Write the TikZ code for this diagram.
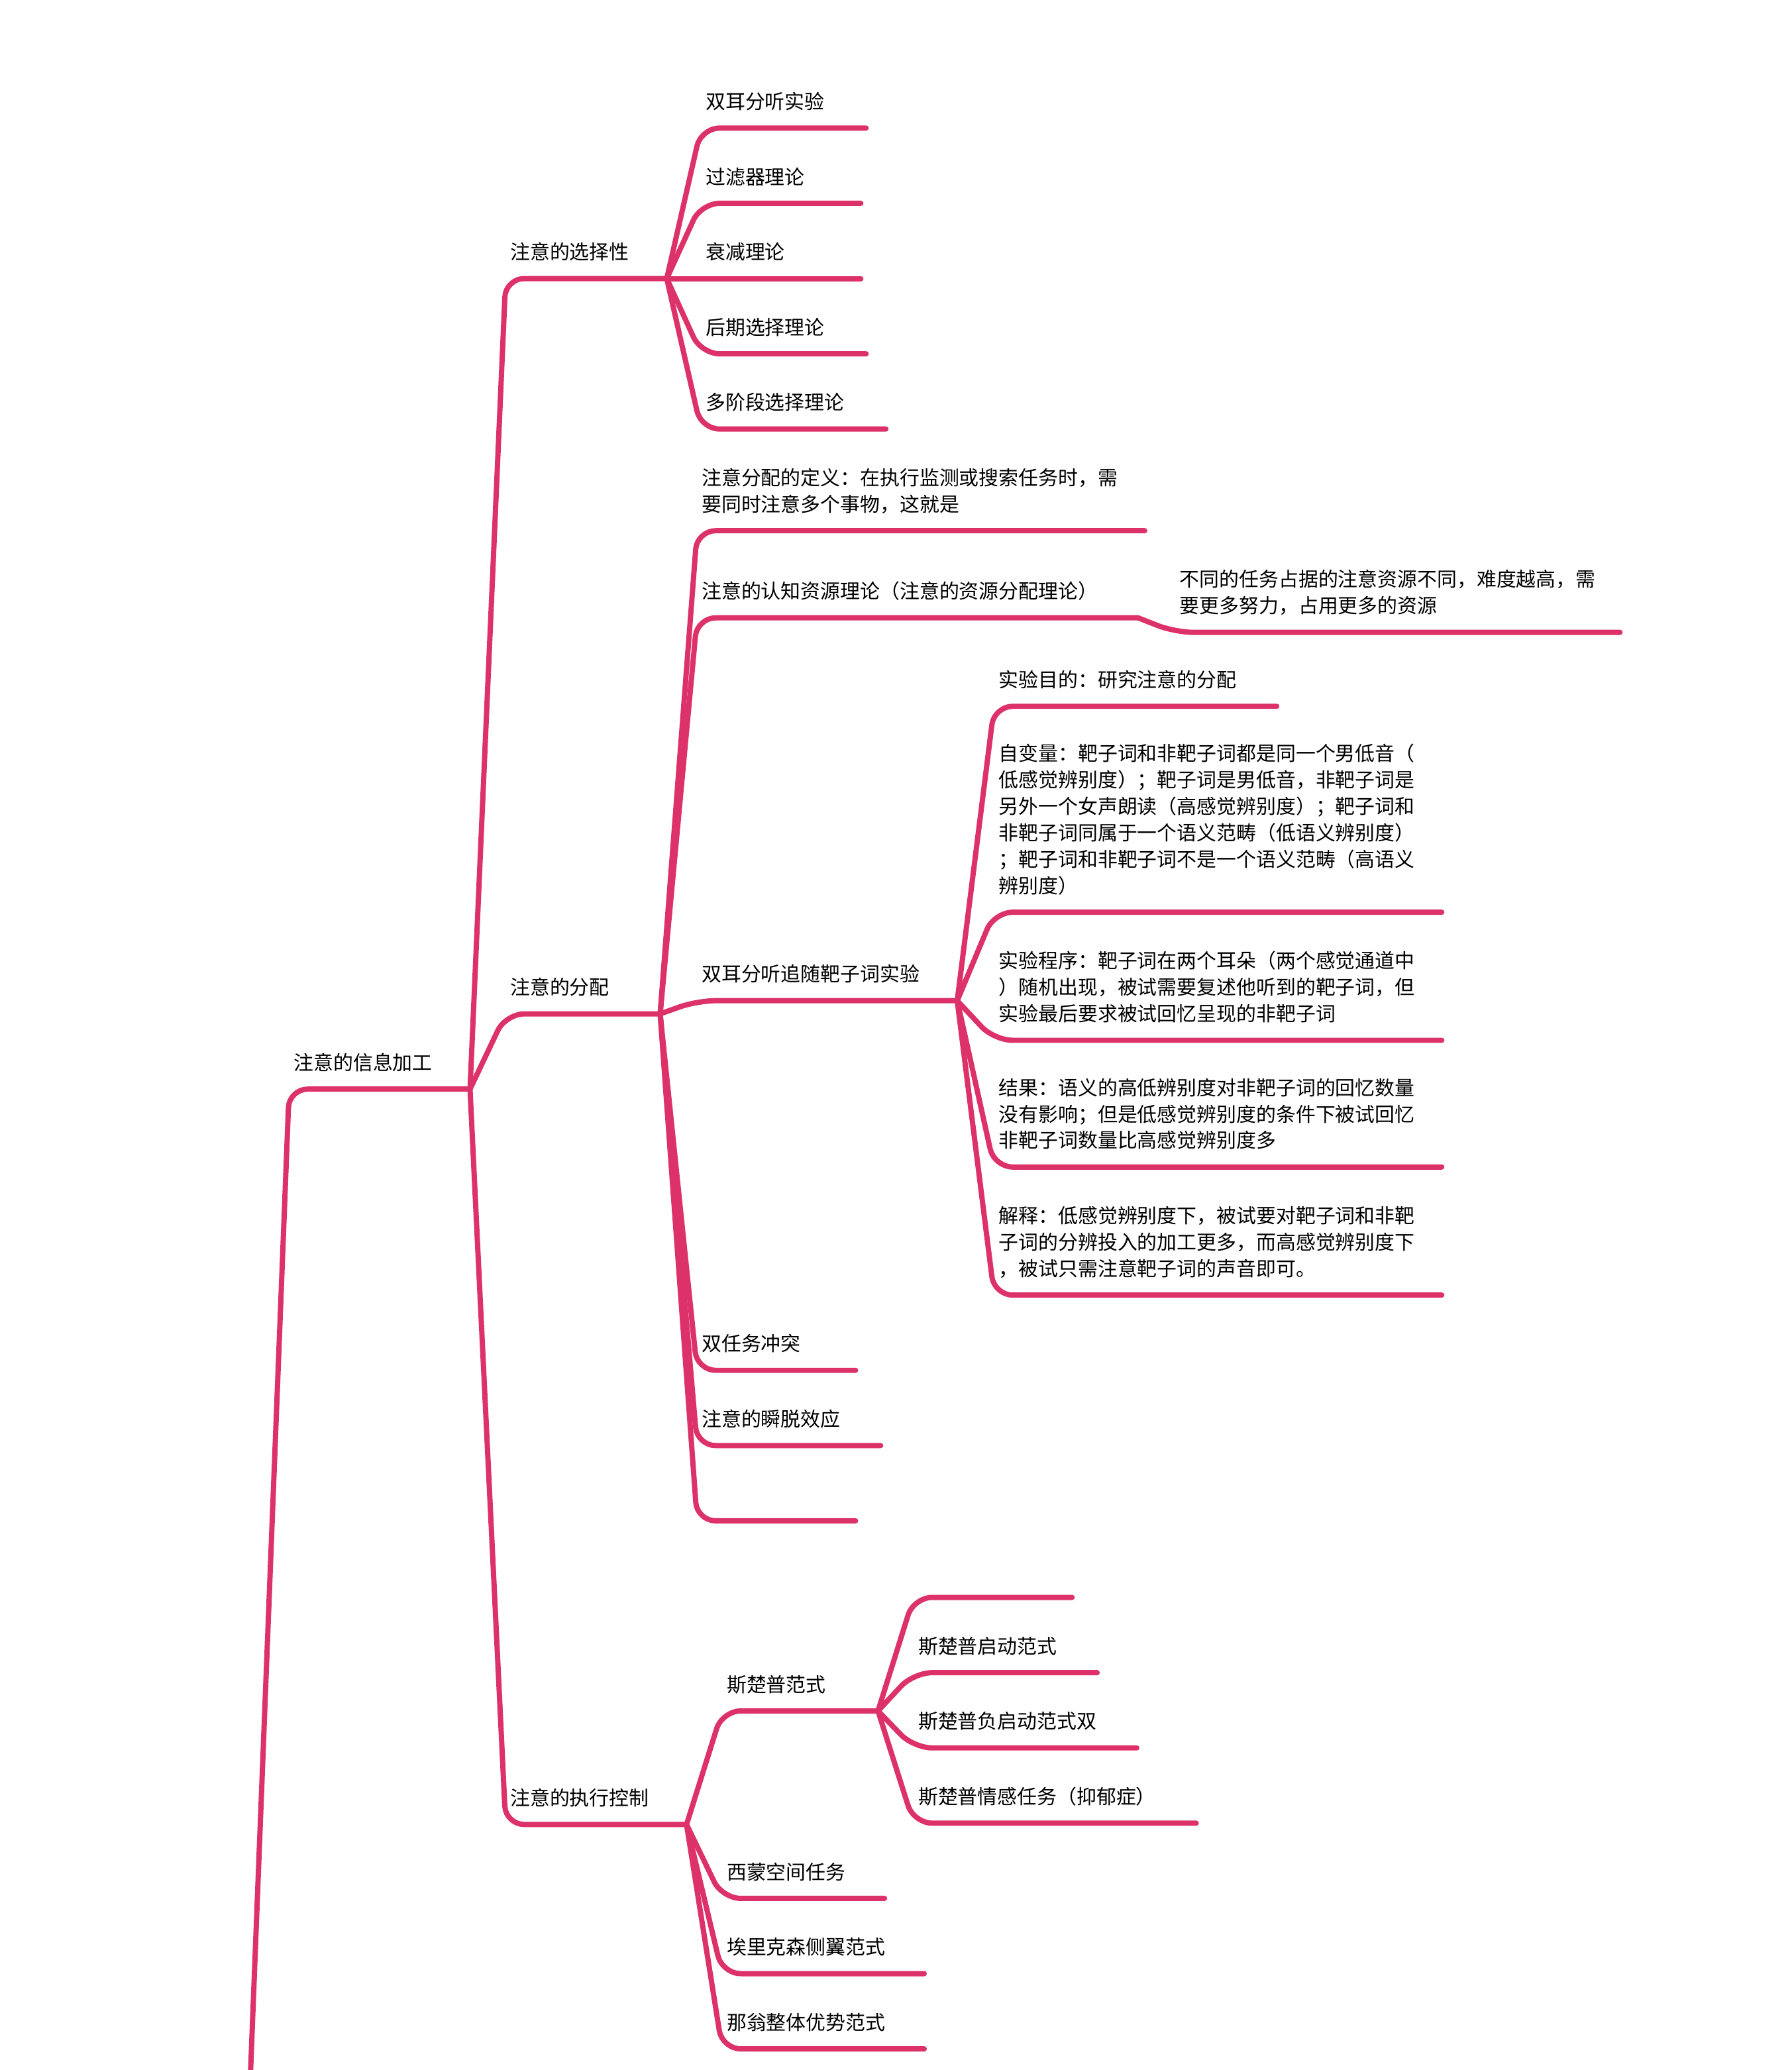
\documentclass[tikz,border=0pt]{standalone}
\usepackage{fontspec}
\newfontfamily\cjk{Noto Sans CJK SC}
\newcommand\mapfont{\cjk\fontsize{15}{20}\selectfont}
\definecolor{mapred}{RGB}{220,50,105}

\begin{document}
\begin{tikzpicture}[x=1pt,y=-1pt,
    topic/.style={anchor=south west,inner xsep=3.5pt,inner ysep=8.5pt,outer sep=0pt,
                  align=left,font=\mapfont,execute at end node=\strut},
    link/.style={draw=mapred,line width=4pt,line cap=round,line join=round,rounded corners=14pt}]
  \useasboundingbox (0,0) rectangle (1357,1568);
  \clip (0,0) rectangle (1357,1568);

  % root and first level
  \node[topic,text width=130pt] (info)  at (219,825)  {注意的信息加工};
  \node[topic,text width=115pt] (sel)   at (383,211)  {注意的选择性};
  \node[topic,text width=110pt] (alloc) at (383,768)  {注意的分配};
  \node[topic,text width=130pt] (exec)  at (383,1382) {注意的执行控制};
  \coordinate (up) at (187,1640);

  % selectivity
  \node[topic,text width=118pt] (dich)  at (531,97)  {双耳分听实验};
  \node[topic,text width=114pt] (filt)  at (531,154) {过滤器理论};
  \node[topic,text width=114pt] (atten) at (531,211) {衰减理论};
  \node[topic,text width=118pt] (late)  at (531,268) {后期选择理论};
  \node[topic,text width=133pt] (multi) at (531,325) {多阶段选择理论};

  % allocation
  \node[topic,text width=332pt] (def)   at (528,402)  {注意分配的定义：在执行监测或搜索任务时，需\\要同时注意多个事物，这就是};
  \node[topic,text width=327pt] (res)   at (528,468)  {注意的认知资源理论（注意的资源分配理论）};
  \node[topic,text width=330pt] (resd)  at (890,479)  {不同的任务占据的注意资源不同，难度越高，需\\要更多努力，占用更多的资源};
  \node[topic,text width=190pt] (track) at (528,758)  {双耳分听追随靶子词实验};
  \node[topic,text width=113pt] (dual)  at (528,1038) {双任务冲突};
  \node[topic,text width=132pt] (blink) at (528,1095) {注意的瞬脱效应};
  \node[topic,text width=113pt] (blank) at (528,1152) {};

  % shadowing experiment
  \node[topic,text width=207pt] (aim)  at (753,535) {实验目的：研究注意的分配};
  \node[topic,text width=332pt] (iv)   at (753,691) {自变量：靶子词和非靶子词都是同一个男低音（\\低感觉辨别度）；靶子词是男低音，非靶子词是\\另外一个女声朗读（高感觉辨别度）；靶子词和\\非靶子词同属于一个语义范畴（低语义辨别度）\\；靶子词和非靶子词不是一个语义范畴（高语义\\辨别度）};
  \node[topic,text width=332pt] (proc) at (753,788) {实验程序：靶子词在两个耳朵（两个感觉通道中\\）随机出现，被试需要复述他听到的靶子词，但\\实验最后要求被试回忆呈现的非靶子词};
  \node[topic,text width=332pt] (outc) at (753,884) {结果：语义的高低辨别度对非靶子词的回忆数量\\没有影响；但是低感觉辨别度的条件下被试回忆\\非靶子词数量比高感觉辨别度多};
  \node[topic,text width=332pt] (expl) at (753,981) {解释：低感觉辨别度下，被试要对靶子词和非靶\\子词的分辨投入的加工更多，而高感觉辨别度下\\，被试只需注意靶子词的声音即可。};

  % executive control
  \node[topic,text width=111pt] (stroop) at (547,1296) {斯楚普范式};
  \node[topic,text width=116pt] (simon)  at (547,1438) {西蒙空间任务};
  \node[topic,text width=146pt] (flank)  at (547,1495) {埃里克森侧翼范式};
  \node[topic,text width=146pt] (navon)  at (547,1552) {那翁整体优势范式};
  \node[topic,text width=113pt] (sblank) at (692,1210) {};
  \node[topic,text width=132pt] (sprime) at (692,1267) {斯楚普启动范式};
  \node[topic,text width=162pt] (sneg)   at (692,1324) {斯楚普负启动范式双};
  \node[topic,text width=207pt] (semo)   at (692,1381) {斯楚普情感任务（抑郁症）};

  % branches
  \draw[link] (up) -- (info.south west) -- (info.south east);
  \foreach \c in {sel,alloc,exec}
    \draw[link] (info.south east) -- (\c.south west) -- (\c.south east);
  \foreach \c in {dich,filt,atten,late,multi}
    \draw[link] (sel.south east) -- (\c.south west) -- (\c.south east);
  \foreach \c in {def,res,track,dual,blink,blank}
    \draw[link] (alloc.south east) -- (\c.south west) -- (\c.south east);
  \draw[link] (res.south east) -- (resd.south west) -- (resd.south east);
  \foreach \c in {aim,iv,proc,outc,expl}
    \draw[link] (track.south east) -- (\c.south west) -- (\c.south east);
  \foreach \c in {stroop,simon,flank,navon}
    \draw[link] (exec.south east) -- (\c.south west) -- (\c.south east);
  \foreach \c in {sblank,sprime,sneg,semo}
    \draw[link] (stroop.south east) -- (\c.south west) -- (\c.south east);
\end{tikzpicture}
\end{document}
